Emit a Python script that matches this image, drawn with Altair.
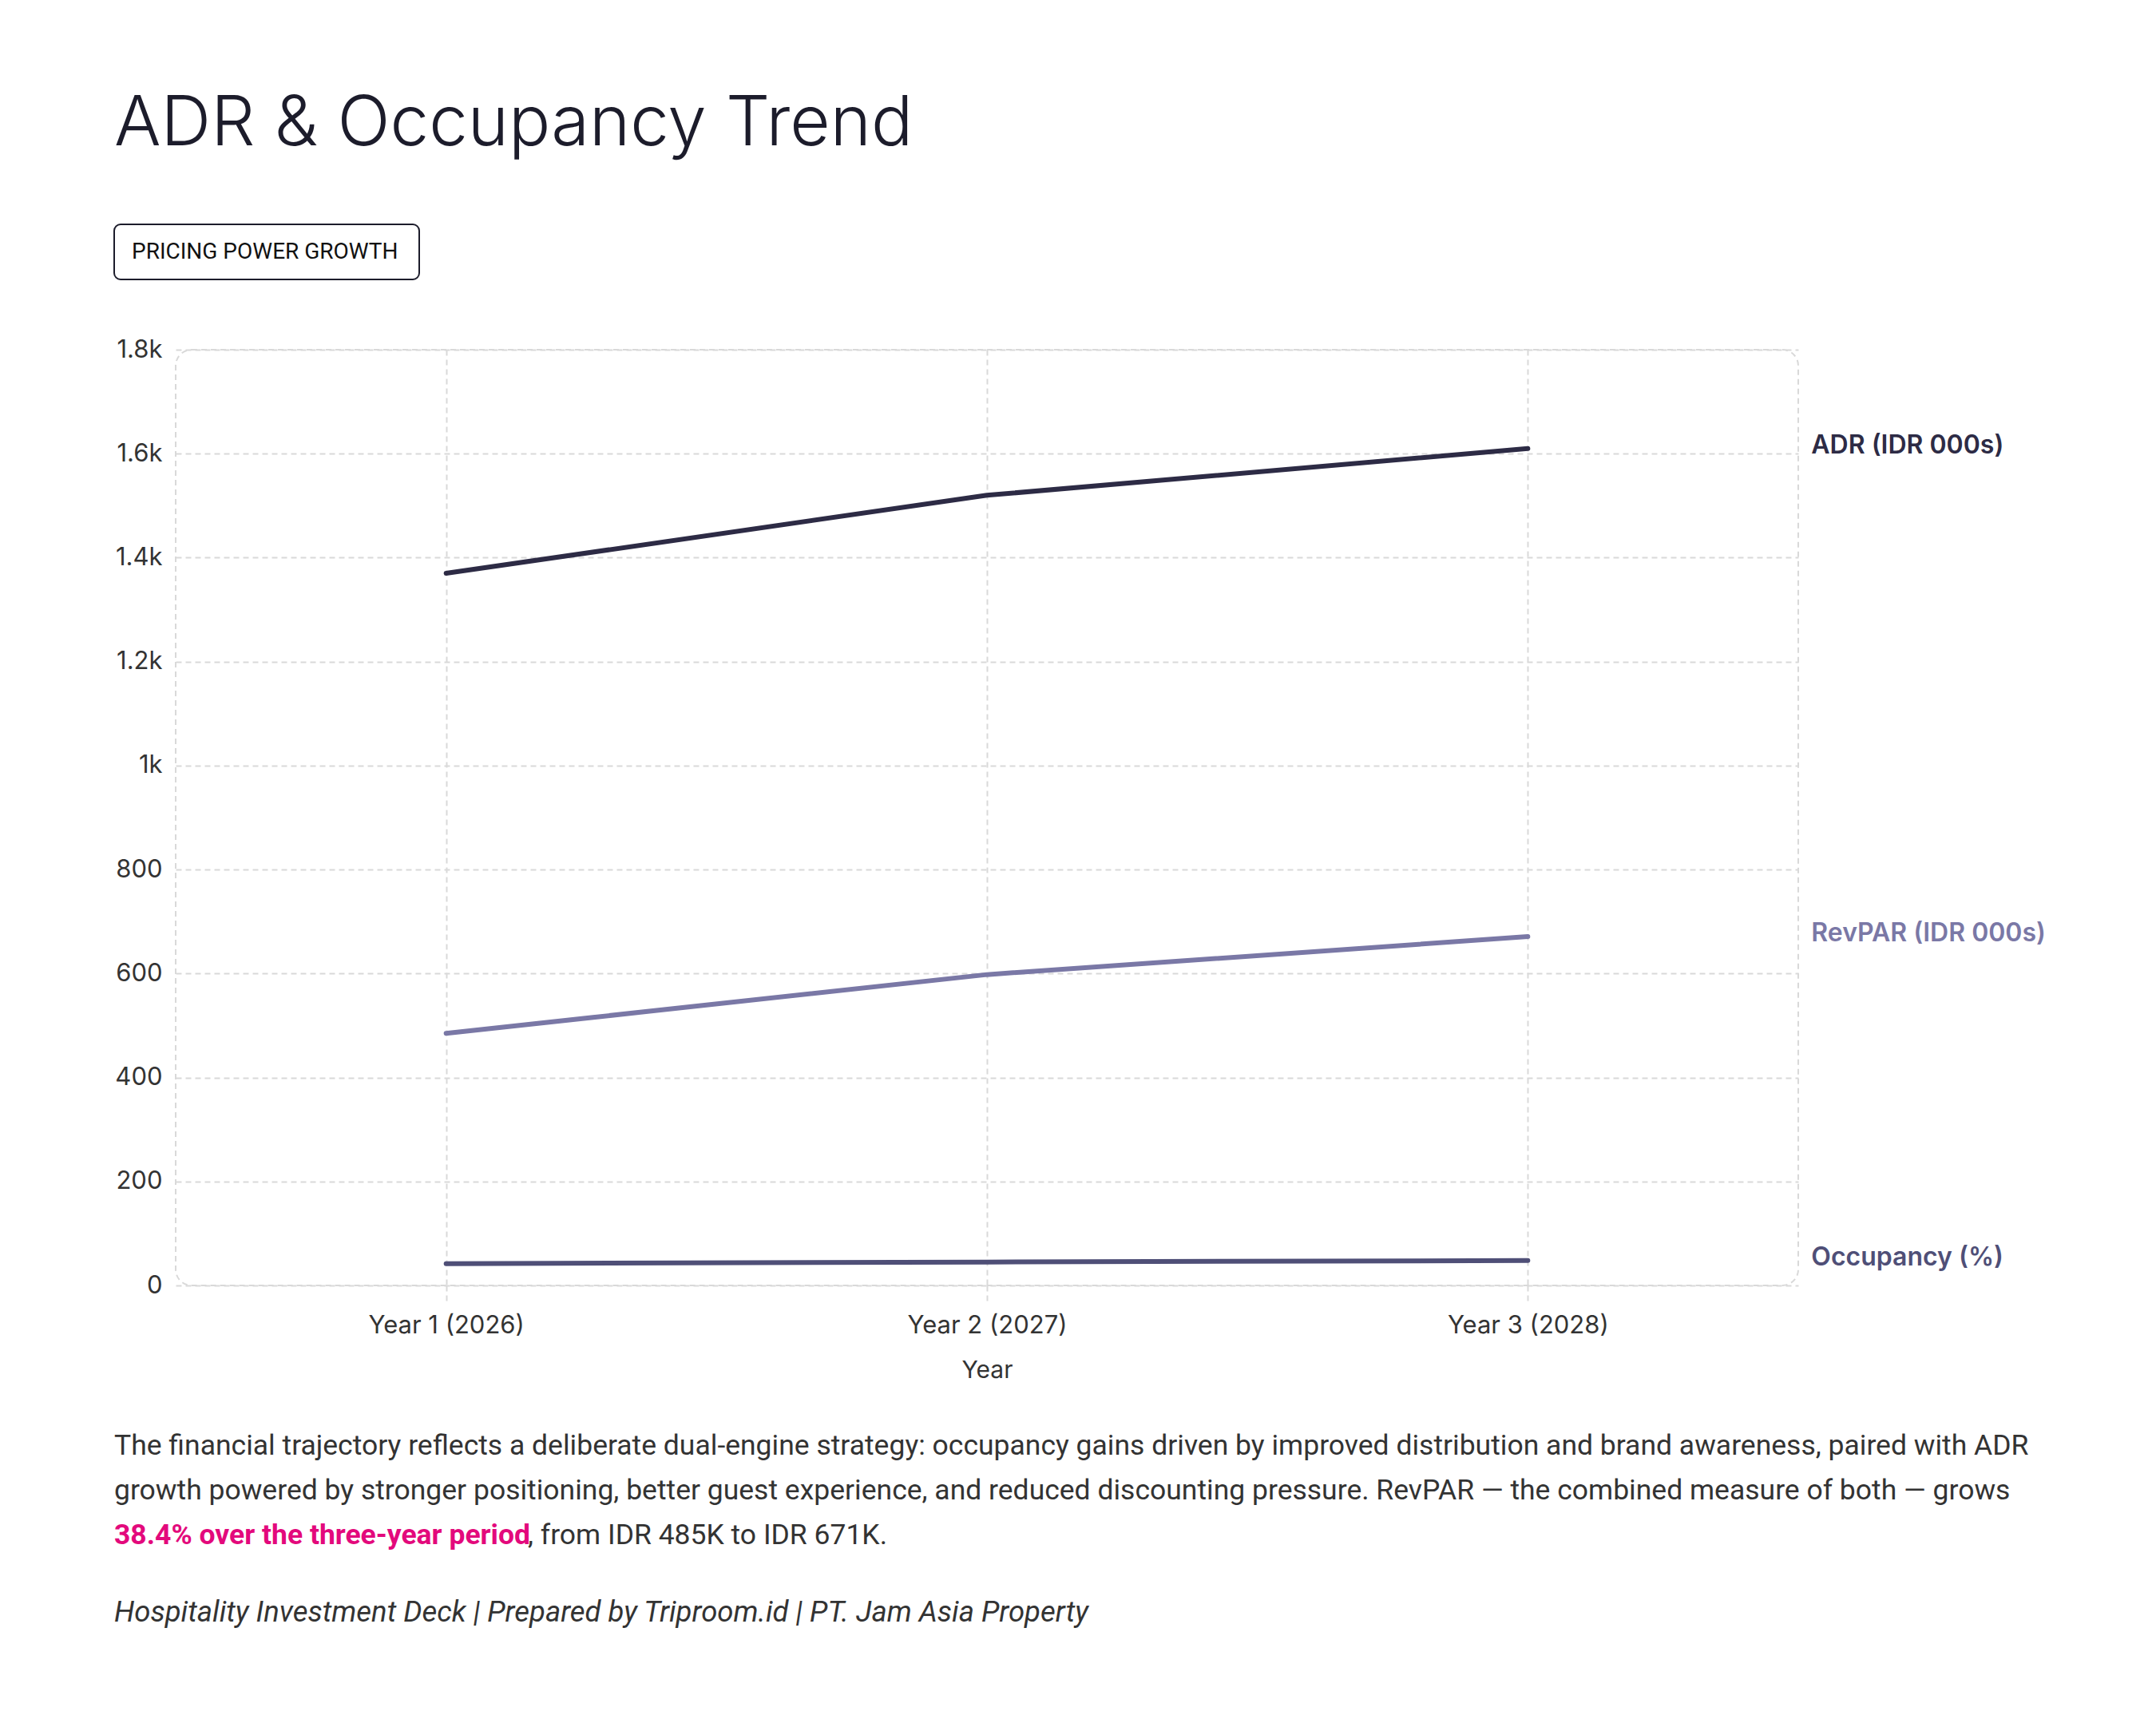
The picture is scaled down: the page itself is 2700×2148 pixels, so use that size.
import altair as alt
import pandas as pd

# ---- data ----
years = ["Year 1 (2026)", "Year 2 (2027)", "Year 3 (2028)"]
adr = [1370, 1520, 1610]
revpar = [485, 598, 671]
occupancy = [42, 45, 48]
series_names = ["ADR (IDR 000s)", "RevPAR (IDR 000s)", "Occupancy (%)"]
series_colors = ["#2d2b45", "#7a78a6", "#4f4f77"]
y_ticks = [0, 200, 400, 600, 800, 1000, 1200, 1400, 1600, 1800]

title_text = "ADR & Occupancy Trend"
badge_text = "PRICING POWER GROWTH"
para_lines = [
    "The financial trajectory reflects a deliberate dual-engine strategy: occupancy gains driven by improved distribution and brand awareness, paired with ADR",
    "growth powered by stronger positioning, better guest experience, and reduced discounting pressure. RevPAR \u2014 the combined measure of both \u2014 grows",
]
highlight_text = "38.4% over the three-year period"
tail_text = ", from IDR 485K to IDR 671K."
footer_text = "Hospitality Investment Deck | Prepared by Triproom.id | PT. Jam Asia Property"

rows = []
for name, vals in zip(series_names, [adr, revpar, occupancy]):
    for yr, v in zip(years, vals):
        rows.append({"year": yr, "series": name, "value": v})
df = pd.DataFrame(rows)

W, H = 2032, 1172
GRID = "#d9d9d9"
DASH = [7, 5]

x_enc = alt.X(
    "year:N", sort=years, title="Year",
    axis=alt.Axis(
        labelAngle=0, domain=False, grid=True, gridColor=GRID, gridDash=DASH, gridWidth=2,
        ticks=True, tickColor=GRID, tickDash=DASH, tickWidth=2, tickSize=20,
        labelFont="Inter", labelFontSize=31, labelColor="#333333", labelPadding=15,
        labelLimit=0,
        titleFont="Inter", titleFontSize=30, titleFontWeight="normal", titleColor="#333333",
        titlePadding=26,
    ),
)
y_enc = alt.Y(
    "value:Q", scale=alt.Scale(domain=[0, 1800], nice=False), title=None,
    axis=alt.Axis(
        values=y_ticks,
        labelExpr="datum.value >= 1000 ? format(datum.value / 1000, '.1~f') + 'k' : format(datum.value, 'd')",
        ticks=False, domain=False,
        grid=True, gridColor=GRID, gridDash=DASH, gridWidth=2,
        labelFont="Inter", labelFontSize=31, labelColor="#333333", labelPadding=17,
    ),
)
color_enc = alt.Color(
    "series:N", scale=alt.Scale(domain=series_names, range=series_colors), legend=None
)

base = alt.Chart(df)
lines = base.mark_line(strokeWidth=6, strokeCap="round", strokeJoin="round").encode(
    x=x_enc, y=y_enc, color=color_enc
)
labels = base.transform_filter(alt.datum.year == years[-1]).mark_text(
    align="left", baseline="middle", dx=355, dy=-4,
    font="Inter", fontSize=32, fontWeight=600,
).encode(x=x_enc, y=y_enc, color=color_enc, text="series:N")


def txt(text, x, y, **kw):
    return alt.Chart(pd.DataFrame({"t": [text]})).mark_text(**kw).encode(
        x=alt.value(x), y=alt.value(y), text="t:N"
    )


title = txt(title_text, -77, -256, align="left", baseline="alphabetic",
            font="Inter", fontSize=87, fontWeight=300, color="#1c1c2b")

badge_box = alt.Chart(pd.DataFrame({"b": [1]})).mark_rect(
    cornerRadius=8, fill="white", stroke="#1c1c2b", strokeWidth=2
).encode(x=alt.value(-77), x2=alt.value(305), y=alt.value(-157), y2=alt.value(-88))
badge = txt(badge_text, -55, -122, align="left", baseline="middle",
            font="Roboto", fontSize=28, color="#111111")

PARA_SIZE = 35.5
para = [
    txt(line, -77, 1373 + i * 56, align="left", baseline="middle",
        font="Roboto", fontSize=PARA_SIZE, color="#333333")
    for i, line in enumerate(para_lines)
]
hl = txt(highlight_text, -77, 1485, align="left", baseline="middle",
         font="Roboto", fontSize=PARA_SIZE, fontWeight="bold", color="#e3097c")
tail = txt(tail_text, 441, 1485, align="left", baseline="middle",
           font="Roboto", fontSize=PARA_SIZE, color="#333333")
footer = txt(footer_text, -77, 1582, align="left", baseline="middle",
             font="Roboto", fontSize=36.5, fontStyle="italic", color="#333333")

chart = alt.layer(
    lines, labels, title, badge_box, badge, *para, hl, tail, footer
).properties(
    width=W, height=H,
    padding={"left": 220, "top": 438, "right": 448, "bottom": 538},
    autosize=alt.AutoSizeParams(type="none"),
    background="white",
).configure_view(
    stroke=GRID, strokeDash=DASH, strokeWidth=2, cornerRadius=20
)

chart.save("out.html", embed_options={"renderer": "svg", "actions": False})
